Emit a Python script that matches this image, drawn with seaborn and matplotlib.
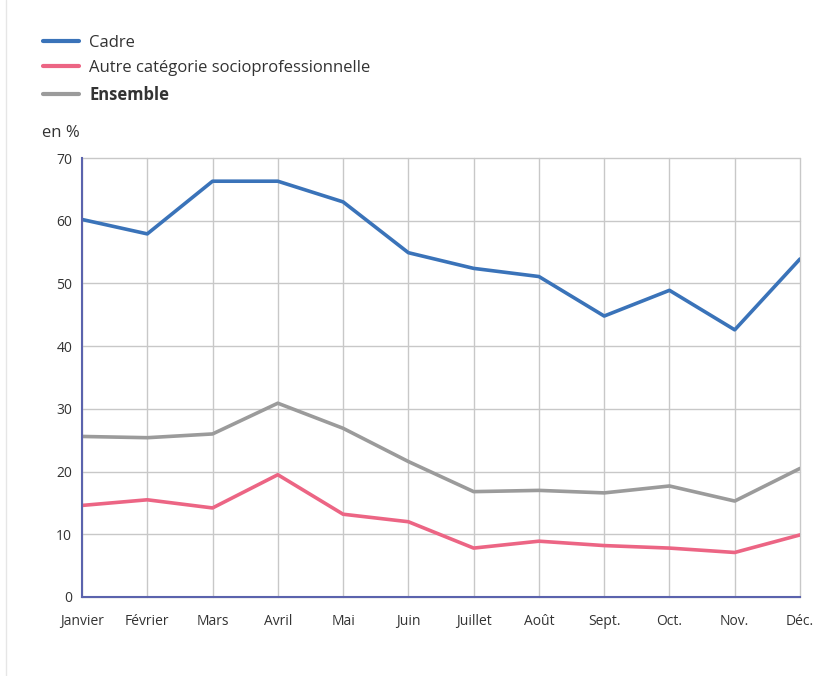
import matplotlib
matplotlib.use("Agg")
import matplotlib.pyplot as plt
import seaborn as sns
import pandas as pd

months = ["Janvier", "Février", "Mars", "Avril", "Mai", "Juin", "Juillet",
          "Août", "Sept.", "Oct.", "Nov.", "Déc."]
cadre = [60.2, 57.9, 66.3, 66.3, 63.0, 54.9, 52.4, 51.1, 44.8, 48.9, 42.6, 53.9]
autre = [14.6, 15.5, 14.2, 19.5, 13.2, 12.0, 7.8, 8.9, 8.2, 7.8, 7.1, 9.9]
ensemble = [25.6, 25.4, 26.0, 30.9, 26.9, 21.6, 16.8, 17.0, 16.6, 17.7, 15.3, 20.5]
series_names = ["Cadre", "Autre catégorie socioprofessionnelle", "Ensemble"]
colors = ["#3a73b9", "#ec6584", "#9b9b9b"]

rows = []
for name, vals in zip(series_names, [cadre, autre, ensemble]):
    for i, (m, v) in enumerate(zip(months, vals)):
        rows.append({"idx": i, "mois": m, "valeur": v, "serie": name})
df = pd.DataFrame(rows)

sns.set_style("white")
plt.rcParams["font.family"] = ["Open Sans", "DejaVu Sans"]

fig = plt.figure(figsize=(8.15, 6.76), dpi=100)
ax = fig.add_axes([82/815, 1-597/676, (800-82)/815, (597-158)/676])

sns.lineplot(data=df, x="idx", y="valeur", hue="serie", hue_order=series_names,
             palette=colors, linewidth=2.6, ax=ax, legend=False, sort=False)

ax.set_xlim(0, 11)
ax.set_ylim(0, 70)
ax.set_xticks(range(12))
ax.set_xticklabels(months, fontsize=10, color="#333333")
ax.set_yticks(range(0, 71, 10))
ax.set_yticklabels([str(v) for v in range(0, 71, 10)], fontsize=10, color="#333333")
ax.set_xlabel("")
ax.set_ylabel("")
ax.grid(True, color="#c8c8c8", linewidth=1)
for gl in ax.get_xgridlines() + ax.get_ygridlines():
    gl.set_clip_on(False)
ax.set_axisbelow(True)
for s in ["top", "right"]:
    ax.spines[s].set_visible(False)
for s in ["left", "bottom"]:
    ax.spines[s].set_color("#5b63ad")
    ax.spines[s].set_linewidth(1.5)
    ax.spines[s].set_zorder(3)
ax.tick_params(axis="x", length=5, color="#c8c8c8", pad=7)
ax.tick_params(axis="y", length=0, pad=7)

fig.text(42/815, 1-133/676, "en %", fontsize=12, color="#333333", va="center", ha="left")

handles = [plt.Line2D([], [], color=c, linewidth=3) for c in colors]
leg = fig.legend(handles, series_names, loc="upper left",
                 bbox_to_anchor=(36/815, 1-28/676), frameon=False, fontsize=12,
                 handlelength=2.2, handletextpad=0.6, labelspacing=0.57, borderaxespad=0)
for t in leg.get_texts():
    t.set_color("#333333")
leg.get_texts()[2].set_fontweight("bold")

fig.add_artist(plt.Line2D([6/815, 6/815], [0, 1], transform=fig.transFigure, color="#e6e6e6", linewidth=1))

fig.savefig("out.png", dpi=100)
